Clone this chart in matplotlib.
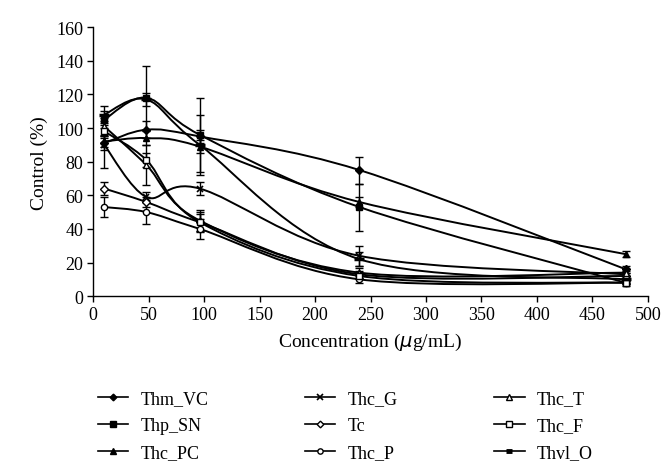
import numpy as np
import matplotlib
matplotlib.use("Agg")
import matplotlib.pyplot as plt
from matplotlib.path import Path
from matplotlib.patches import PathPatch
from matplotlib.lines import Line2D

conc = [10, 48, 96, 240, 480]

names = ["Thm_VC", "Thp_SN", "Thc_PC", "Thc_G", "Tc", "Thc_P", "Thc_T", "Thc_F", "Thvl_O"]
thm_vc = [91, 99, 95, 75, 16]
thp_sn = [105, 118, 96, 53, 8]
thc_pc = [92, 94, 89, 56, 25]
thc_g = [90, 59, 64, 24, 13]
tc = [64, 56, 44, 13, 12]
thc_p = [53, 50, 40, 10, 8]
thc_t = [101, 78, 45, 14, 14]
thc_f = [98, 81, 44, 12, 8]
thvl_o = [108, 117, 90, 22, 10]

err_thm_vc = [4, 5, 4, 8, 2]
err_thp_sn = [5, 19, 22, 14, 2]
err_thc_pc = [3, 4, 4, 3, 2]
err_thc_g = [14, 3, 4, 6, 2]
err_tc = [4, 3, 5, 2, 2]
err_thc_p = [6, 7, 6, 2, 1]
err_thc_t = [5, 12, 6, 3, 2]
err_thc_f = [4, 4, 6, 2, 1]
err_thvl_o = [5, 4, 18, 4, 2]

series = [thm_vc, thp_sn, thc_pc, thc_g, tc, thc_p, thc_t, thc_f, thvl_o]
errors = [err_thm_vc, err_thp_sn, err_thc_pc, err_thc_g, err_tc, err_thc_p, err_thc_t, err_thc_f, err_thvl_o]
markers = ["D", "s", "^", "x", "D", "o", "^", "s", "_"]
filled = [True, True, True, True, False, False, False, False, True]
msizes = [4, 5, 5, 5, 4, 4.5, 5, 5, 7]

plt.rcParams["font.family"] = "Liberation Serif"

fig = plt.figure(figsize=(6.7, 4.77), dpi=100)
ax = fig.add_axes([0.139, 0.377, 0.828, 0.564])


def smooth_path(x, y):
    x = np.asarray(x, float)
    y = np.asarray(y, float)
    verts = [(x[0], y[0])]
    codes = [Path.MOVETO]
    n = len(x)
    for i in range(n - 1):
        x0, y0 = (x[i - 1], y[i - 1]) if i > 0 else (x[i], y[i])
        x3, y3 = (x[i + 2], y[i + 2]) if i + 2 < n else (x[i + 1], y[i + 1])
        c1 = (x[i] + (x[i + 1] - x0) / 6, y[i] + (y[i + 1] - y0) / 6)
        c2 = (x[i + 1] - (x3 - x[i]) / 6, y[i + 1] - (y3 - y[i]) / 6)
        verts += [c1, c2, (x[i + 1], y[i + 1])]
        codes += [Path.CURVE4] * 3
    return Path(verts, codes)


handles = []
for name, ys, es, m, f, ms in zip(names, series, errors, markers, filled, msizes):
    mew = 2.5 if m == "_" else (1.2 if m == "x" else 1.0)
    ax.add_patch(PathPatch(smooth_path(conc, ys), fill=False, lw=1.4, ec="black", zorder=2))
    ax.errorbar(conc, ys, yerr=es, fmt="none", ecolor="black", elinewidth=1.0,
                capsize=3, capthick=1.0, zorder=3)
    ax.plot(conc, ys, linestyle="none", marker=m, ms=ms,
            mfc="black" if f else "white", mec="black", mew=mew, zorder=4)
    handles.append(Line2D([], [], color="black", lw=1.2, marker=m,
                          ms=(5 if m == "_" else ms * 0.85),
                          mfc="black" if f else "white", mec="black",
                          mew=(3.5 if m == "_" else mew), label=name))

ax.set_xlim(0, 500)
ax.set_ylim(0, 160)
ax.set_xticks(np.arange(0, 501, 50))
ax.set_yticks(np.arange(0, 161, 20))
ax.spines["top"].set_visible(False)
ax.spines["right"].set_visible(False)
ax.spines["left"].set_linewidth(1.0)
ax.spines["bottom"].set_linewidth(1.0)
ax.tick_params(direction="out", length=4, width=1.0, labelsize=13, pad=3)
ax.set_ylabel("Control (%)", fontsize=14, labelpad=6)
ax.set_xlabel(r"Concentration ($\mathit{\mu}$g/mL)", fontsize=14, labelpad=6)

fig.legend(handles=handles, loc="upper left",
           bbox_to_anchor=(0.135, 0.195), ncol=3, frameon=False, fontsize=13,
           handlelength=1.7, columnspacing=5.3, labelspacing=0.55, handletextpad=0.7,
           borderaxespad=0)

fig.savefig("out.png", dpi=100)
